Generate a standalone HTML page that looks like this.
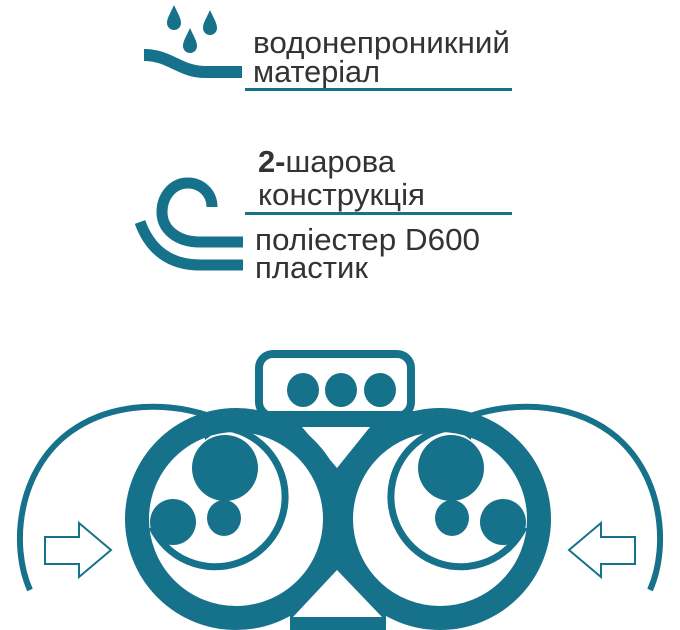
<!DOCTYPE html>
<html><head><meta charset="utf-8"><style>
html,body{margin:0;padding:0;background:#fff;width:680px;height:630px;overflow:hidden}
svg{display:block}
text{font-family:"Liberation Sans",sans-serif;fill:#333}
</style></head><body>
<svg width="680" height="630" viewBox="0 0 680 630">
<g fill="#16718a" stroke="none">
<path d="M174 5 C170 14 167 18 167 23 A7 7 0 0 0 181 23 C181 18 178 14 174 5Z"/>
<path d="M210 10 C206 19 203 23 203 28 A7 7 0 0 0 217 28 C217 23 214 19 210 10Z"/>
<path d="M190 28 C186 37 183 41 183 46 A7 7 0 0 0 197 46 C197 41 194 37 190 28Z"/>
</g>
<path d="M144 55 C170 55 180 72 205 72 L242 72" fill="none" stroke="#16718a" stroke-width="12"/>
<text x="253" y="53" font-size="31" textLength="257" lengthAdjust="spacingAndGlyphs">водонепроникний</text>
<text x="253" y="82" font-size="31" textLength="127" lengthAdjust="spacingAndGlyphs">матеріал</text>
<rect x="245" y="88" width="267" height="3" fill="#16718a"/>

<path d="M212 207 C212 192 200 183 188 183 C172 183 162 197 162 212 C162 230 178 242 200 242 L243 242" fill="none" stroke="#16718a" stroke-width="11"/>
<path d="M140 222 C150 250 170 265 200 265 L243 265" fill="none" stroke="#16718a" stroke-width="11"/>
<text x="258" y="172" font-size="31" textLength="137" lengthAdjust="spacingAndGlyphs"><tspan font-weight="bold">2-</tspan>шарова</text>
<text x="258" y="205" font-size="31" textLength="167" lengthAdjust="spacingAndGlyphs">конструкція</text>
<rect x="245" y="212" width="267" height="3" fill="#16718a"/>
<text x="255" y="250" font-size="31" textLength="225" lengthAdjust="spacingAndGlyphs">поліестер D600</text>
<text x="255" y="278" font-size="31" textLength="113" lengthAdjust="spacingAndGlyphs">пластик</text>

<rect x="259" y="354" width="152" height="62" rx="14" fill="none" stroke="#16718a" stroke-width="8"/>
<g fill="#16718a">
<ellipse cx="303" cy="390" rx="16" ry="17"/>
<ellipse cx="341" cy="390" rx="16" ry="17"/>
<ellipse cx="380" cy="390" rx="16" ry="17"/>
<rect x="253" y="411" width="167" height="17"/>
<path d="M290 427 L386 427 L386 630 L290 630Z"/>
</g>
<path d="M302 427 L370 427 L337 468Z" fill="#fff"/>
<circle cx="236" cy="519" r="88" fill="#fff"/>
<circle cx="440" cy="519" r="88" fill="#fff"/>
<circle cx="236" cy="519" r="99" fill="none" stroke="#16718a" stroke-width="24"/>
<circle cx="440" cy="519" r="99" fill="none" stroke="#16718a" stroke-width="24"/>
<path d="M337 570 L382 617 L293 617Z" fill="#fff"/>
<g fill="#16718a">
<ellipse cx="225" cy="468" rx="33" ry="33"/>
<ellipse cx="173" cy="522" rx="23" ry="23"/>
<ellipse cx="224" cy="518" rx="17" ry="18"/>
<ellipse cx="451" cy="468" rx="33" ry="33"/>
<ellipse cx="452" cy="518" rx="17" ry="18"/>
<ellipse cx="503" cy="522" rx="23" ry="23"/>
</g>
<path d="M209 427 A70 70 0 1 1 152 527" fill="none" stroke="#16718a" stroke-width="7"/>
<path d="M467 427 A70 70 0 1 0 524 527" fill="none" stroke="#16718a" stroke-width="7"/>
<path d="M203 414 L224 426 L205 440Z" fill="#16718a"/>
<path d="M473 414 L452 426 L471 440Z" fill="#16718a"/>
<path d="M30 590 C10 545 18 470 70 432 C110 403 170 398 225 422" fill="none" stroke="#16718a" stroke-width="6"/>
<path d="M650 590 C670 545 662 470 610 432 C570 403 510 398 455 422" fill="none" stroke="#16718a" stroke-width="6"/>
<path d="M45 537 L79 537 L79 523 L111 550 L79 577 L79 564 L45 564Z" fill="#fff" stroke="#16718a" stroke-width="2"/>
<path d="M635 537 L601 537 L601 523 L569 550 L601 577 L601 564 L635 564Z" fill="#fff" stroke="#16718a" stroke-width="2"/>
</svg>
</body></html>
